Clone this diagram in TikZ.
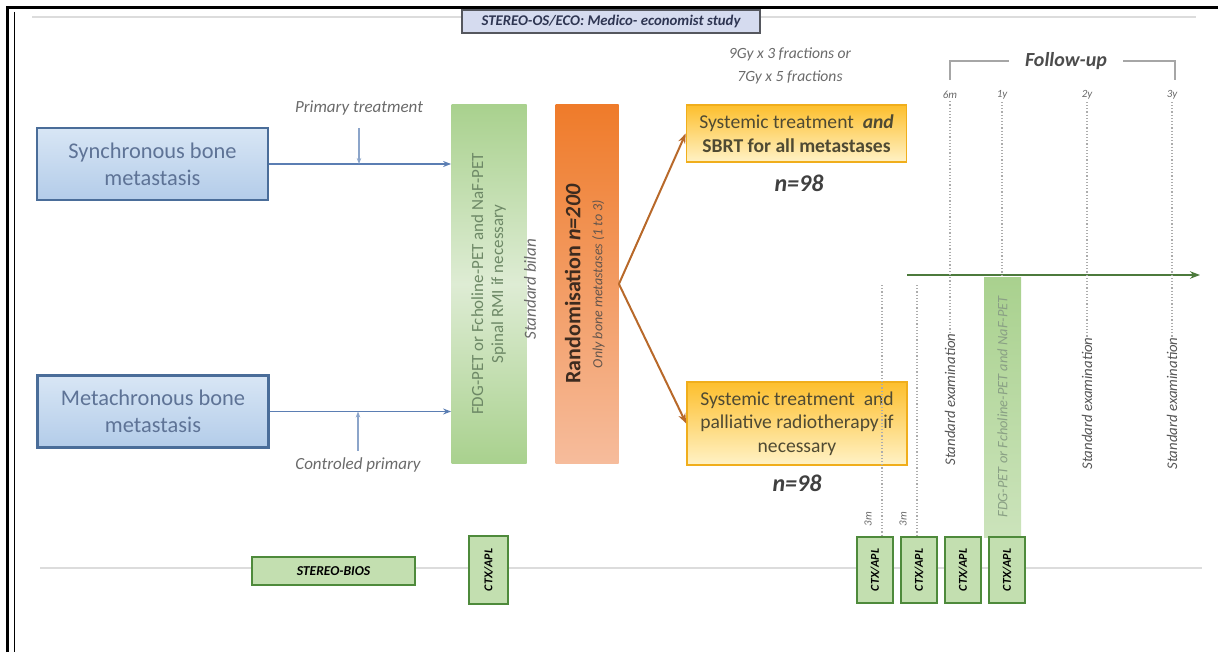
\documentclass[tikz,border=0pt]{standalone}
\usepackage{fontspec}
\setmainfont{Carlito}
\usepackage{graphicx}
\usetikzlibrary{arrows.meta,positioning,calc}
\definecolor{metaline}{HTML}{4A6D99}
\definecolor{metatop}{HTML}{D8E6F5}
\definecolor{metabot}{HTML}{B3CCE9}
\definecolor{metatext}{HTML}{5E7396}
\definecolor{bluearr}{HTML}{5B7EB3}
\definecolor{petgreen}{HTML}{A9D18E}
\definecolor{petlight}{HTML}{DEECD4}
\definecolor{pettext}{HTML}{6D8866}
\definecolor{randtop}{HTML}{EF7B2A}
\definecolor{randbot}{HTML}{F6BC9C}
\definecolor{randtext}{HTML}{3D2B1F}
\definecolor{armtop}{HTML}{FDBF2D}
\definecolor{armbot}{HTML}{FFF2C6}
\definecolor{armline}{HTML}{F0AE1C}
\definecolor{armtext}{HTML}{4F4A33}
\definecolor{orarr}{HTML}{B8692A}
\definecolor{ctxfill}{HTML}{C3DFB0}
\definecolor{ctxline}{HTML}{4E8A3B}
\definecolor{ecofill}{HTML}{D5DBEF}
\definecolor{ecoline}{HTML}{55575E}
\definecolor{ecotext}{HTML}{2E3552}
\definecolor{tlgreen}{HTML}{4C7A3C}
\definecolor{rulegray}{HTML}{DCDCDC}
\definecolor{lblgray}{HTML}{6A6A6A}
\begin{document}
\begin{tikzpicture}[
  x=0.5pt,y=-0.5pt,
  meta/.style={draw=metaline,line width=1.3pt,top color=metatop,bottom color=metabot,text=metatext,
    minimum width=115.5pt,minimum height=36pt,align=center,font=\fontsize{11.2}{13.5}\selectfont},
  pet/.style={minimum width=37.5pt,minimum height=179pt,inner sep=0pt,top color=petgreen,bottom color=petgreen,
    middle color=petlight,text=pettext,font=\fontsize{8.5}{10}\selectfont},
  rand/.style={minimum width=31.5pt,minimum height=179pt,inner sep=0pt,top color=randtop,bottom color=randbot,
    text=randtext,font=\fontsize{7}{11}\selectfont},
  arm/.style={draw=armline,line width=0.8pt,top color=armtop,bottom color=armbot,text=armtext,
    minimum width=110pt,inner sep=1pt,align=center,font=\fontsize{9.8}{11.8}\selectfont},
  ctx/.style={draw=ctxline,line width=1pt,fill=ctxfill,minimum width=18pt,minimum height=33pt,inner sep=0pt,
    font=\fontsize{6}{7}\selectfont\bfseries\itshape},
  eco/.style={draw=ecoline,line width=1pt,fill=ecofill,text=ecotext,minimum width=149pt,minimum height=11.5pt,
    inner sep=0pt,font=\fontsize{7.4}{8}\selectfont\bfseries\itshape},
  lbl/.style={text=lblgray,font=\fontsize{8.5}{10}\selectfont\itshape},
  tinylbl/.style={text=lblgray,inner sep=1pt,font=\fontsize{5.5}{6}\selectfont\itshape},
  stdex/.style={text=lblgray!80!black,inner sep=0pt,anchor=north,font=\fontsize{7.4}{8}\selectfont\itshape},
  nlbl/.style={text=black!75,font=\fontsize{12}{14}\selectfont\bfseries\itshape},
  barr/.style={draw=bluearr,line width=0.9pt,-{Stealth[length=4pt]}},
  tick/.style={draw=bluearr!70,line width=0.6pt,-{Stealth[length=3pt]}},
  oarr/.style={draw=orarr,line width=1pt,-{Stealth[length=5pt]}},
  dots/.style={draw=gray!65,densely dotted,line width=0.6pt},
  brk/.style={draw=gray!70,line width=0.8pt},
  tline/.style={draw=tlgreen,line width=1.4pt,-{Stealth[length=5pt]}}
]
\useasboundingbox (0,0) rectangle (1218,652);
\draw[line width=1.5pt] (7,652) -- (7,8) -- (1218,8);
\draw[line width=0.9pt] (14.5,12) -- (14.5,652);
\draw[draw=rulegray,line width=1pt] (32,17) -- (1196,17);
\draw[draw=rulegray,line width=1pt] (40,568) -- (1202,568);

\node[eco] (eco) at (611,21.5) {STEREO-OS/ECO: Medico- economist study};

\node[meta] (sync) at (152.5,164) {Synchronous bone\\metastasis};
\node[meta] (metac) at (153,411.5) {Metachronous bone\\metastasis};
\node[pet] (pet) at (489,284) {\rotatebox{90}{\begin{tabular}{@{}c@{}}FDG-PET or Fcholine-PET and NaF-PET\\Spinal RMI if necessary\end{tabular}}};
\node[lbl,inner sep=0pt] (bilan) at (530,289) {\rotatebox{90}{Standard bilan}};
\node[rand] (rand) at (587,284) {\rotatebox{90}{\begin{tabular}{@{}c@{}}{\fontsize{11}{12}\selectfont\bfseries Randomisation \textit{n=200}}\\{\itshape\color{randtext!80} Only bone metastases (1 to 3)}\end{tabular}}};
\node[lbl] (prim) at (359,108) {Primary treatment};
\node[lbl] (ctrl) at (358,465) {Controled primary};
\draw[barr] (sync.east) -- (sync.east -| pet.west);
\draw[barr] (metac.east) -- (metac.east -| pet.west);
\draw[tick,shorten <=3pt] (prim.south) -- (prim.south |- sync.east);
\draw[tick] (ctrl.north) -- (ctrl.north |- metac.east);

\node[lbl,font=\fontsize{7.8}{11.5}\selectfont\itshape,align=center] (frac) at (790,66) {9Gy x 3 fractions or\\7Gy x 5 fractions};
\node[arm,minimum height=28.5pt] (arm1) at (796.5,133.5) {Systemic treatment \ \textbf{\textit{and}}\\\textbf{SBRT for all metastases}};
\node[nlbl] (n1) at (799,183) {n=98};
\node[arm,minimum height=41.5pt] (arm2) at (797,423.5) {Systemic treatment \ and\\palliative radiotherapy if\\necessary};
\node[nlbl] (n2) at (797,483) {n=98};
\draw[oarr] (rand.east) -- (arm1.west);
\draw[oarr] (rand.east) -- (arm2.west);

\node[text=black!70,inner xsep=8pt,font=\fontsize{10}{12}\selectfont\bfseries\itshape] (fu) at (1066,61) {Follow-up};
\coordinate (fuL) at (950,80);
\coordinate (fuR) at (1175,80);
\draw[brk] (fuL) |- (fu.west);
\draw[brk] (fuR) |- (fu.east);
\node[tinylbl] (m6) at (950,95) {6m};
\node[tinylbl] (y1) at (1002,95) {1y};
\node[tinylbl] (y2) at (1087,95) {2y};
\node[tinylbl] (y3) at (1172,95) {3y};
\coordinate (tl0) at (907,275);
\coordinate (tl1) at (1200,275);
\node[minimum width=18.5pt,minimum height=130pt,inner sep=0pt,top color=petgreen,bottom color=petgreen!60,
      text=pettext!80,font=\fontsize{7.2}{8}\selectfont\itshape] (pet2) at (1002.5,407) {\rotatebox{90}{FDG-PET or Fcholine-PET and NaF-PET}};
\draw[tline] (tl0) -- (tl1);
\node[stdex] (se1) at (950,333) {\rotatebox{90}{Standard examination}};
\node[stdex] (se2) at (1087,337) {\rotatebox{90}{Standard examination}};
\node[stdex] (se3) at (1172,337) {\rotatebox{90}{Standard examination}};
\draw[dots] (m6.south) -- (se1.north);
\draw[dots] (y1.south) -- (y1.south |- pet2.north);
\draw[dots] (y2.south) -- (se2.north);
\draw[dots] (y3.south) -- (se3.north);

\node[ctx,minimum width=19.5pt,minimum height=34pt] (ctx0) at (488.5,570) {\rotatebox{90}{CTX/APL}};
\node[ctx,minimum width=81.5pt,minimum height=14pt,font=\fontsize{6.8}{8}\selectfont\bfseries\itshape] (bios) at (333.5,571) {STEREO-BIOS};
\node[ctx] (ctxa) at (875,570) {\rotatebox{90}{CTX/APL}};
\node[ctx,right=3pt of ctxa] (ctxb) {\rotatebox{90}{CTX/APL}};
\node[ctx,right=3pt of ctxb] (ctxc) {\rotatebox{90}{CTX/APL}};
\node[ctx,right=3pt of ctxc] (ctxd) {\rotatebox{90}{CTX/APL}};
\coordinate (d3a) at (882,285);
\coordinate (d3b) at (917,285);
\draw[dots] (d3a) -- (d3a |- ctxa.north);
\draw[dots] (d3b) -- (d3b |- ctxb.north);
\node[tinylbl] (m3a) at (868,519) {\rotatebox{90}{3m}};
\node[tinylbl] (m3b) at (903,519) {\rotatebox{90}{3m}};
\end{tikzpicture}
\end{document}
